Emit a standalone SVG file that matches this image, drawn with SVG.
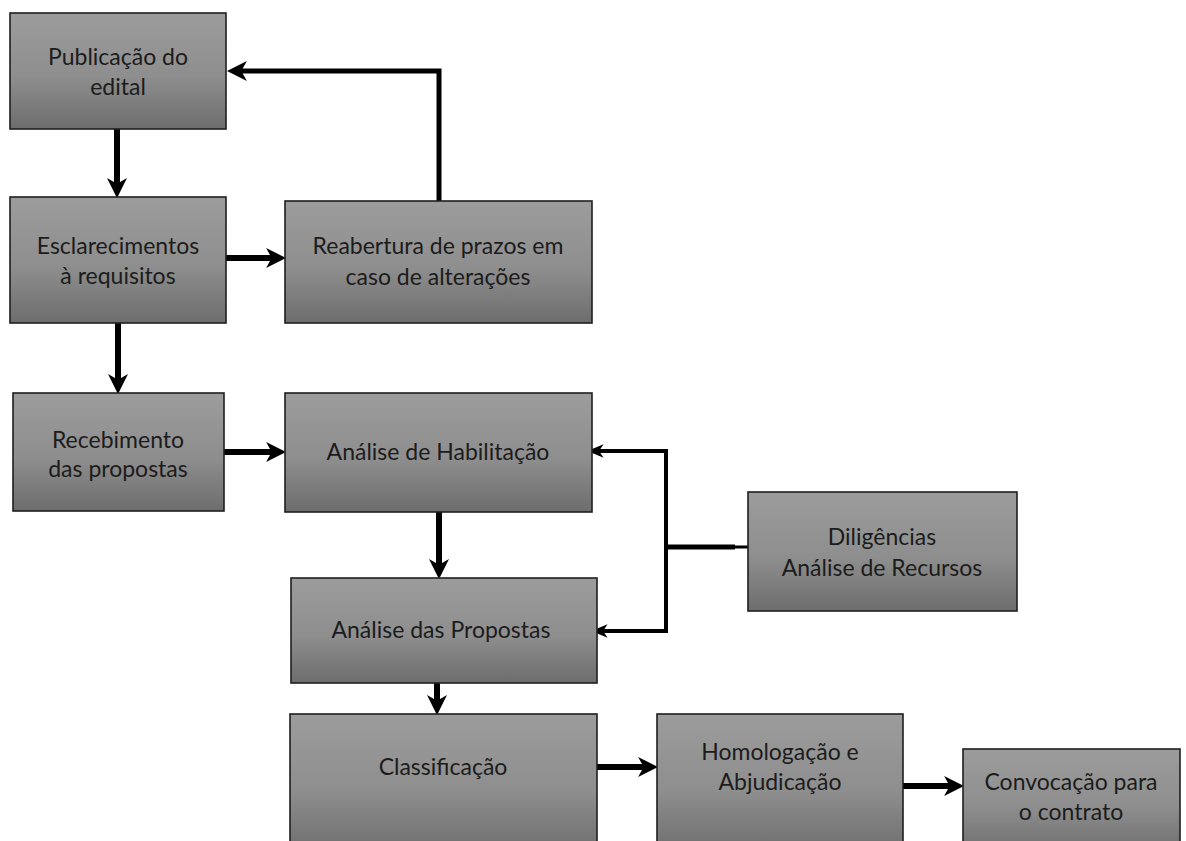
<svg xmlns="http://www.w3.org/2000/svg" width="1186" height="841" viewBox="0 0 1186 841">
  <defs>
    <linearGradient id="boxFill" x1="0" y1="0" x2="0" y2="1">
      <stop offset="0" stop-color="#9c9c9c"/>
      <stop offset="0.55" stop-color="#8e8e8e"/>
      <stop offset="1" stop-color="#6d6d6d"/>
    </linearGradient>
    <!-- notched arrowheads; tip sits 10px past the path end -->
    <marker id="headThick" markerUnits="userSpaceOnUse" markerWidth="20" markerHeight="20" viewBox="0 0 18 18" refX="8" refY="9" orient="auto">
      <path d="M0,0 L18,9 L0,18 L5,9 Z" fill="#000"/>
    </marker>
    <marker id="headThin" markerUnits="userSpaceOnUse" markerWidth="16" markerHeight="16" viewBox="0 0 14 14" refX="4" refY="7" orient="auto">
      <path d="M0,1 L14,7 L0,13 L4,7 Z" fill="#000"/>
    </marker>
    <style>
      .box { fill: url(#boxFill); stroke: #1e1e1e; stroke-width: 1.6; }
      .label { font-family: Lato, "Liberation Sans", sans-serif; font-size: 23px; fill: #1c1c1c; text-anchor: middle; }
      .conn { fill: none; stroke: #000; stroke-linejoin: miter; }
      .thick { stroke-width: 6; marker-end: url(#headThick); }
      .mid { stroke-width: 5; }
      .thin { stroke-width: 4; }
    </style>
  </defs>

  <rect width="1186" height="841" fill="#fff"/>

  <g id="connectors">
    <path class="conn thick" d="M117,129 V187"/>
    <path class="conn thick" d="M226,258 H275"/>
    <path class="conn mid" d="M439,201 V71 H238" style="marker-end:url(#headThick)"/>
    <path class="conn thick" d="M118,323 V383"/>
    <path class="conn thick" d="M224,452 H275"/>
    <path class="conn thick" d="M439,512 V568"/>
    <path class="conn thick" d="M437,683 V704"/>
    <path class="conn thick" d="M597,767 H647"/>
    <path class="conn thick" d="M903,786 H953"/>
    <!-- branch from Diligências back to both analysis steps -->
    <path class="conn" stroke-width="5" d="M735,547 H666"/>
    <path class="conn" stroke-width="3" d="M748,547 H734"/>
    <path class="conn thin" d="M666,451 V631"/>
    <path class="conn thin" d="M668,451 H599" style="marker-end:url(#headThin)"/>
    <path class="conn thin" d="M668,631 H603" style="marker-end:url(#headThin)"/>
  </g>

  <g id="publicacao">
    <rect class="box" x="10" y="13" width="216" height="116"/>
    <text class="label" x="118" y="65">Publicação do</text>
    <text class="label" x="118" y="95">edital</text>
  </g>

  <g id="esclarecimentos">
    <rect class="box" x="10" y="197" width="216" height="126"/>
    <text class="label" x="118" y="254">Esclarecimentos</text>
    <text class="label" x="118" y="284">à requisitos</text>
  </g>

  <g id="reabertura">
    <rect class="box" x="285" y="201" width="307" height="122"/>
    <text class="label" x="438" y="254">Reabertura de prazos em</text>
    <text class="label" x="438" y="285">caso de alterações</text>
  </g>

  <g id="recebimento">
    <rect class="box" x="13" y="393" width="211" height="118"/>
    <text class="label" x="118" y="448">Recebimento</text>
    <text class="label" x="118" y="477">das propostas</text>
  </g>

  <g id="habilitacao">
    <rect class="box" x="285" y="393" width="307" height="119"/>
    <text class="label" x="438" y="460">Análise de Habilitação</text>
  </g>

  <g id="propostas">
    <rect class="box" x="291" y="578" width="306" height="105"/>
    <text class="label" x="441" y="638">Análise das Propostas</text>
  </g>

  <g id="diligencias">
    <rect class="box" x="748" y="492" width="269" height="119"/>
    <text class="label" x="882" y="545">Diligências</text>
    <text class="label" x="882" y="576">Análise de Recursos</text>
  </g>

  <g id="classificacao">
    <rect class="box" x="290" y="714" width="307" height="140"/>
    <text class="label" x="443" y="775">Classificação</text>
  </g>

  <g id="homologacao">
    <rect class="box" x="657" y="714" width="246" height="140"/>
    <text class="label" x="780" y="760">Homologação e</text>
    <text class="label" x="780" y="790">Abjudicação</text>
  </g>

  <g id="convocacao">
    <rect class="box" x="963" y="749" width="217" height="105"/>
    <text class="label" x="1071" y="790">Convocação para</text>
    <text class="label" x="1071" y="820">o contrato</text>
  </g>
</svg>
